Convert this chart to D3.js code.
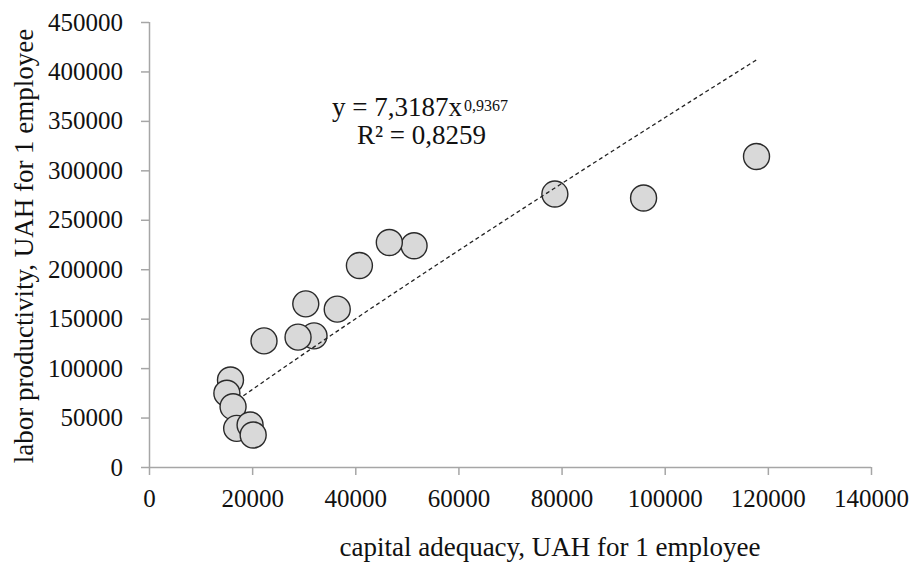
<!DOCTYPE html>
<html>
<head>
<meta charset="utf-8">
<script src="https://cdn.jsdelivr.net/npm/d3@7"></script>
<style>
  body { margin: 0; background: #fff; }
  text { font-family: "Liberation Serif", "Times New Roman", serif; fill: #111; }
</style>
</head>
<body>
<div id="container"></div>
<script>
// capital adequacy (x) vs labor productivity (y), UAH per employee
var capital = [117800, 95900, 78700, 51400, 46600, 40800, 36500, 30400, 32000, 28900, 22300, 15800, 15100, 16300, 17000, 19600, 20200];
var productivity = [314000, 272000, 276000, 223700, 227000, 203700, 159600, 165000, 132600, 131300, 127500, 88000, 74600, 61000, 39100, 42500, 32400];
var xTicks = [0, 20000, 40000, 60000, 80000, 100000, 120000, 140000];
var yTicks = [0, 50000, 100000, 150000, 200000, 250000, 300000, 350000, 400000, 450000];
var trendRange = [18300, 117800];
var trendA = 7.3187, trendB = 0.9367;

var svg = d3.select('#container').append('svg')
  .attr('width', 912)
  .attr('height', 566);

var x = d3.scaleLinear().domain([0, 140000]).range([149, 871]);
var y = d3.scaleLinear().domain([0, 450000]).range([467, 22]);

var xAxis = svg.append('g')
  .attr('transform', 'translate(0,467)')
  .call(d3.axisBottom(x).tickValues(xTicks).tickSize(8).tickPadding(14).tickFormat(d3.format('d')));
var yAxis = svg.append('g')
  .attr('transform', 'translate(149,0)')
  .call(d3.axisLeft(y).tickValues(yTicks).tickSize(8).tickPadding(18).tickFormat(d3.format('d')));

[xAxis, yAxis].forEach(function(g) {
  g.selectAll('path, line').attr('stroke', '#a6a6a6').attr('stroke-width', 1.5);
  g.selectAll('text')
    .style('font-family', '"Liberation Serif", serif')
    .style('font-size', '25px')
    .attr('fill', '#111');
});
// no end-caps on the axis lines
xAxis.select('.domain').attr('d', 'M149,0.5H871');
yAxis.select('.domain').attr('d', 'M0.5,467V22');

var pts = capital.map(function(c, i) { return {x: c, y: productivity[i]}; });

svg.append('g').selectAll('circle')
  .data(pts)
  .enter()
  .append('circle')
  .attr('cx', function(d) { return x(d.x); })
  .attr('cy', function(d) { return y(d.y); })
  .attr('r', 13)
  .attr('fill', '#d9d9d9')
  .attr('stroke', '#2a2a2a')
  .attr('stroke-width', 1.4);

// power trendline y = a * x^b
var trendXs = d3.range(trendRange[0], trendRange[1] + 1, 500);
var line = d3.line()
  .x(function(d) { return x(d); })
  .y(function(d) { return y(trendA * Math.pow(d, trendB)); });

svg.append('path')
  .datum(trendXs)
  .attr('d', line)
  .attr('fill', 'none')
  .attr('stroke', '#222')
  .attr('stroke-width', 1.3)
  .attr('stroke-dasharray', '4,3');

var eq = svg.append('text')
  .attr('x', 332)
  .attr('y', 116)
  .style('font-size', '27px');
eq.append('tspan').text('y = 7,3187x');
eq.append('tspan').attr('dx', 2).attr('dy', -5).style('font-size', '16px').text('0,9367');

svg.append('text')
  .attr('x', 357)
  .attr('y', 144)
  .style('font-size', '27px')
  .text('R² = 0,8259');

svg.append('text')
  .attr('x', 550)
  .attr('y', 556)
  .attr('text-anchor', 'middle')
  .style('font-size', '27px')
  .text('capital adequacy, UAH for 1 employee');

svg.append('text')
  .attr('transform', 'translate(33,246) rotate(-90)')
  .attr('text-anchor', 'middle')
  .style('font-size', '27px')
  .text('labor productivity, UAH for 1 employee');
</script>
</body>
</html>
